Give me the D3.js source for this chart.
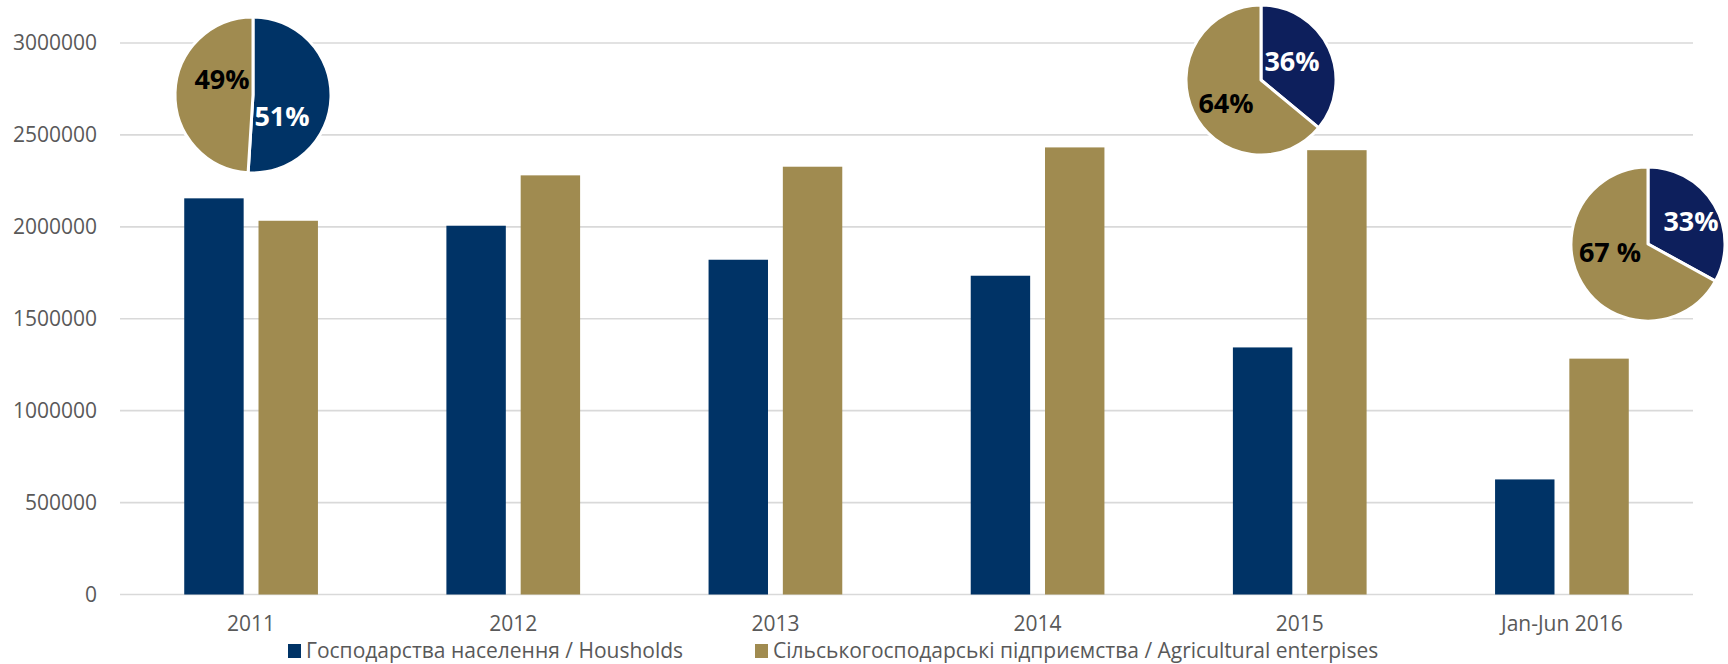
<!DOCTYPE html>
<html>
<head>
<meta charset="utf-8">
<script src="https://cdn.jsdelivr.net/npm/d3@7"></script>
<style>
  html, body { margin: 0; padding: 0; background: #fff; }
  svg { display: block; }
</style>
</head>
<body>
<svg id="chart" width="1728" height="664"></svg>
<script>
// ---------- data ----------
const categories = ["2011", "2012", "2013", "2014", "2015", "Jan-Jun 2016"];
const households = [2155000, 2006000, 1821000, 1734000, 1344000, 626000];
const enterprises = [2033000, 2280000, 2327000, 2432000, 2417000, 1283000];
const seriesNames = ["Господарства населення / Housholds", "Сільськогосподарські підприємства / Agricultural enterpises"];
const yTicks = [0, 500000, 1000000, 1500000, 2000000, 2500000, 3000000];

const pieCategories = ["2011", "2015", "Jan-Jun 2016"];
const pieHouseholdShare = [51, 36, 33];
const pieEnterpriseShare = [49, 64, 67];
const pieHouseholdLabels = ["51%", "36%", "33%"];
const pieEnterpriseLabels = ["49%", "64%", "67 %"];

// ---------- layout ----------
const plotLeft = 120, plotRight = 1693, plotTop = 43, plotBottom = 594.5;
const colBlue = "#003366", colGold = "#a08b50", colNavy = "#0d1f5c";
const gridCol = "#d9d9d9", textCol = "#595959";
const font = "'Open Sans', sans-serif";

const svg = d3.select("#chart");

const y = d3.scaleLinear().domain([0, 3000000]).range([plotBottom, plotTop]);
const x0 = d3.scaleBand().domain(categories).range([plotLeft, plotRight]).paddingInner(0.49).paddingOuter(0.245);
const x1 = d3.scaleBand().domain([0, 1]).range([0, x0.bandwidth()]).paddingInner(0.2);

// gridlines
svg.append("g").selectAll("line").data(yTicks).join("line")
  .attr("x1", plotLeft).attr("x2", plotRight)
  .attr("y1", d => y(d)).attr("y2", d => y(d))
  .attr("stroke", gridCol).attr("stroke-width", 1.6);

// y axis labels
const yAxis = d3.axisLeft(y).tickValues(yTicks).tickFormat(d3.format("d")).tickSize(0).tickPadding(0);
const gy = svg.append("g").attr("transform", "translate(97,0)").call(yAxis);
gy.select(".domain").remove();
gy.selectAll("text").attr("fill", textCol).style("font-family", font).style("font-size", "21px");

// bars
const series = [households, enterprises];
const colors = [colBlue, colGold];
const groups = svg.append("g").selectAll("g").data(categories).join("g")
  .attr("transform", d => `translate(${x0(d)},0)`);
groups.selectAll("rect").data((d, i) => series.map((s, k) => ({k, v: s[i]}))).join("rect")
  .attr("x", d => x1(d.k))
  .attr("width", x1.bandwidth())
  .attr("y", d => y(d.v))
  .attr("height", d => y(0) - y(d.v))
  .attr("fill", d => colors[d.k]);

// x axis labels
const xAxis = d3.axisBottom(x0).tickSize(0).tickPadding(0);
const gx = svg.append("g").attr("transform", `translate(0,${plotBottom + 22})`).call(xAxis);
gx.select(".domain").remove();
gx.selectAll("text").attr("fill", textCol).style("font-family", font).style("font-size", "21px");

// legend
const legendX = [288, 755];
const leg = svg.append("g").selectAll("g").data(seriesNames).join("g")
  .attr("transform", (d, i) => `translate(${legendX[i]},651)`);
leg.append("rect").attr("x", 0).attr("y", -7).attr("width", 13).attr("height", 14)
  .attr("fill", (d, i) => colors[i]);
leg.append("text").attr("x", 18).attr("y", 0).attr("dy", "0.35em")
  .attr("fill", textCol).style("font-family", font).style("font-size", "21px")
  .text(d => d);

// pies
const pieCenters = [[253, 95, 78], [1261, 80, 75], [1648, 244, 77]];
const pieBlue = [colBlue, colNavy, colNavy];
const labelOffsets = [
  [[29, 22], [-31, -15]],
  [[31, -18], [-35, 24]],
  [[43, -22], [-38, 9]]
];
const pie = d3.pie().sort(null).value(d => d);
pieCategories.forEach((c, i) => {
  const [cx, cy, r] = pieCenters[i];
  const g = svg.append("g").attr("transform", `translate(${cx},${cy})`);
  const arcs = pie([pieHouseholdShare[i], pieEnterpriseShare[i]]);
  const arc = d3.arc().innerRadius(0).outerRadius(r);
  g.selectAll("path").data(arcs).join("path")
    .attr("d", arc)
    .attr("fill", (d, k) => k === 0 ? pieBlue[i] : colGold)
    .attr("stroke", "#fff").attr("stroke-width", 3).attr("stroke-linejoin", "round");
  const labels = [pieHouseholdLabels[i], pieEnterpriseLabels[i]];
  g.selectAll("text").data(labels).join("text")
    .attr("x", (d, k) => labelOffsets[i][k][0])
    .attr("y", (d, k) => labelOffsets[i][k][1])
    .attr("dy", "0.35em")
    .attr("text-anchor", "middle")
    .attr("fill", (d, k) => k === 0 ? "#fff" : "#000")
    .style("font-family", font).style("font-weight", "bold").style("font-size", "27px")
    .text(d => d);
});
</script>
</body>
</html>
